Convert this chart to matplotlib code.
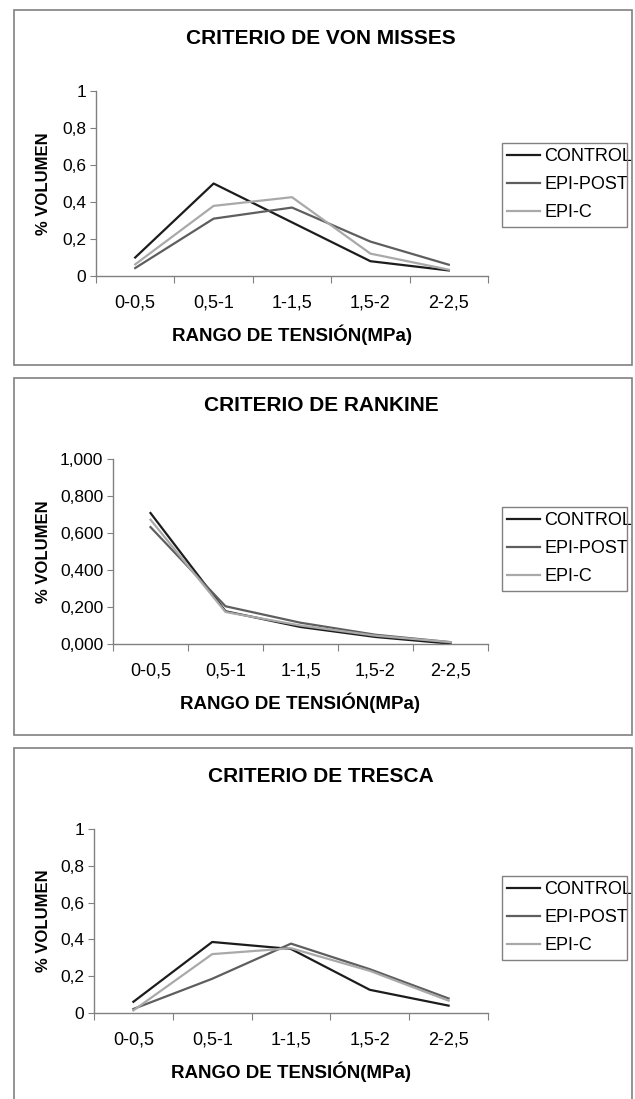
import matplotlib
matplotlib.use("Agg")
import matplotlib.pyplot as plt
from matplotlib.patches import Rectangle
from matplotlib.ticker import FixedLocator, FuncFormatter

plt.rcParams['font.family'] = ['Liberation Sans', 'DejaVu Sans']

# datos
rangos = ["0-0,5", "0,5-1", "1-1,5", "1,5-2", "2-2,5"]
series = ["CONTROL", "EPI-POST", "EPI-C"]
colores = ["#1c1c1c", "#5e5e5e", "#a9a9a9"]

von_misses_control = [0.10, 0.50, 0.29, 0.08, 0.03]
von_misses_epi_post = [0.043, 0.31, 0.37, 0.186, 0.061]
von_misses_epi_c = [0.063, 0.379, 0.426, 0.121, 0.034]

rankine_control = [0.708, 0.177, 0.092, 0.038, 0.002]
rankine_epi_post = [0.632, 0.204, 0.115, 0.05, 0.01]
rankine_epi_c = [0.672, 0.173, 0.10, 0.045, 0.01]

tresca_control = [0.061, 0.386, 0.348, 0.126, 0.040]
tresca_epi_post = [0.022, 0.186, 0.377, 0.238, 0.079]
tresca_epi_c = [0.014, 0.32, 0.352, 0.229, 0.067]

titulos = ["CRITERIO DE VON MISSES", "CRITERIO DE RANKINE", "CRITERIO DE TRESCA"]
datos = [
    [von_misses_control, von_misses_epi_post, von_misses_epi_c],
    [rankine_control, rankine_epi_post, rankine_epi_c],
    [tresca_control, tresca_epi_post, tresca_epi_c],
]

W, H = 635, 1099
fig = plt.figure(figsize=(W / 100, H / 100), dpi=100)


def fx(px):
    return px / W


def fy(py):
    return 1 - py / H


# (caja top, caja bottom, ax left, ax right, ax top, ax bottom, leyenda top)
paneles = [
    (10, 365, 96, 488, 91, 276, 143),
    (378, 735, 113, 488, 459, 644, 507),
    (748, 1110, 94, 488, 829, 1013, 876),
]

for i, (bt, bb, l, r, t, b, lt) in enumerate(paneles):
    # marco del grafico
    fig.patches.append(Rectangle((fx(14), fy(bb)), fx(632) - fx(14), fy(bt) - fy(bb),
                                 transform=fig.transFigure, fill=False,
                                 edgecolor="#808080", lw=1.2))
    # marco de la leyenda
    fig.patches.append(Rectangle((fx(502), fy(lt + 84)), fx(627) - fx(502), fy(lt) - fy(lt + 84),
                                 transform=fig.transFigure, fill=False,
                                 edgecolor="#808080", lw=1.0))
    ax = fig.add_axes([fx(l), fy(b), fx(r) - fx(l), fy(t) - fy(b)])
    x = [k + 0.5 for k in range(len(rangos))]
    for nombre, vals, c in zip(series, datos[i], colores):
        ax.plot(x, vals, color=c, lw=1.6, label=nombre)

    ax.set_xlim(0, len(rangos))
    ax.set_ylim(0, 1)
    ax.xaxis.set_major_locator(FixedLocator(range(len(rangos) + 1)))
    ax.xaxis.set_minor_locator(FixedLocator(x))
    ax.set_xticklabels([""] * (len(rangos) + 1))
    ax.set_xticklabels(rangos, minor=True)
    ax.tick_params(axis="x", which="major", length=5, color="#808080", direction="out")
    ax.tick_params(axis="x", which="minor", length=0, pad=13, labelsize=13)
    ax.set_yticks([0, 0.2, 0.4, 0.6, 0.8, 1.0])
    if i == 1:
        fmt = FuncFormatter(lambda v, p: f"{v:.3f}".replace(".", ","))
    else:
        fmt = FuncFormatter(lambda v, p: f"{v:g}".replace(".", ","))
    ax.yaxis.set_major_formatter(fmt)
    ax.tick_params(axis="y", length=4, color="#808080", labelsize=12.5, pad=3)
    for s in ["top", "right"]:
        ax.spines[s].set_visible(False)
    for s in ["left", "bottom"]:
        ax.spines[s].set_color("#808080")
        ax.spines[s].set_linewidth(1.0)

    ax.set_xlabel("RANGO DE TENSIÓN(MPa)", fontsize=13.5, fontweight="bold", labelpad=10)
    fig.text(fx(43), (fy(t) + fy(b)) / 2, "% VOLUMEN", rotation=90, fontsize=12,
             fontweight="bold", ha="center", va="center")
    fig.text(fx(321), fy(bt + 28), titulos[i], fontsize=15, fontweight="bold",
             ha="center", va="center")

    ax.legend(loc="upper left", bbox_to_anchor=(fx(507), fy(lt + 5)),
              bbox_transform=fig.transFigure, frameon=False, fontsize=13,
              handlelength=1.8, handletextpad=0.25, borderaxespad=0, borderpad=0,
              labelspacing=0.62)

fig.savefig("out.png", dpi=100)
